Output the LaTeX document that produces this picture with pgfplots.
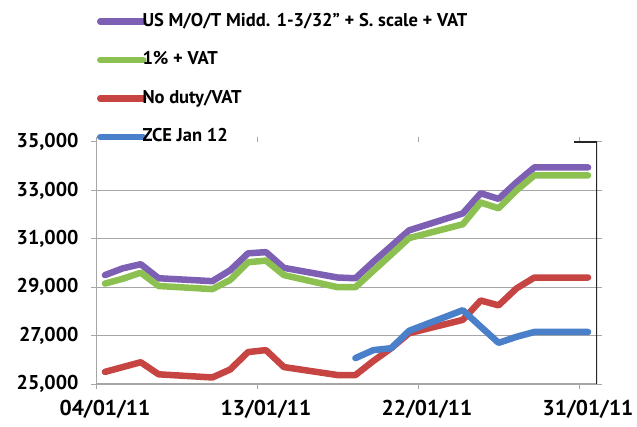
\documentclass[border=0pt]{standalone}
\usepackage{fontspec}
\setmainfont{PT Sans}
\usepackage{pgfplots}
\pgfplotsset{compat=1.18}
\definecolor{cpur}{HTML}{7D60B3}
\definecolor{cgrn}{HTML}{8CC152}
\definecolor{cred}{HTML}{C64441}
\definecolor{cblu}{HTML}{4A7FC9}
\definecolor{cgrid}{HTML}{A6A6A6}
\begin{document}
\begin{tikzpicture}[x=1pt,y=1pt]
\useasboundingbox (0,0) rectangle (637,426);
\begin{axis}[
  at={(96pt,42pt)}, anchor=south west,
  scale only axis, width=501pt, height=242pt,
  xmin=3.5, xmax=31.5, ymin=25000, ymax=35000,
  axis line style={draw=none},
  tick align=outside,
  xtick={4,13,22,31},
  xticklabels={04/01/11,13/01/11,22/01/11,31/01/11},
  major x tick style={draw=none},
  minor xtick={3.5,12.5,21.5,30.5},
  minor x tick style={draw=cgrid, line width=1pt},
  minor tick length=5pt,
  major tick length=5pt,
  ytick={25000,27000,...,33000},
  extra y ticks={35000},
  extra y tick style={grid=none},
  ymajorgrids,
  major grid style={draw=cgrid, line width=1.2pt},
  y tick style={draw=cgrid, line width=1pt},
  /pgf/number format/.cd, 1000 sep={,}, assume math mode=true, /pgfplots/.cd,
  scaled y ticks=false,
  yticklabel style={font=\fontsize{20}{22}\selectfont\bfseries, anchor=east, xshift=-9pt},
  xticklabel style={font=\fontsize{21.5}{23}\selectfont\bfseries, anchor=north, yshift=-8pt},
  legend cell align=left,
  legend style={at={(0.002,1.533)}, anchor=north west, draw=none, fill=none,
    inner sep=0pt, outer sep=0pt, row sep=21.5pt,
    font=\fontsize{18.5}{20}\selectfont\bfseries,
    nodes={text height=13pt, text depth=4pt, inner sep=0pt},
    /tikz/every odd column/.append style={column sep=-4pt}},
  legend image code/.code={\draw[#1] (0pt,0pt) -- (43pt,0pt);},
  every axis plot/.append style={line width=6.5pt, line cap=round, line join=round},
]
\addplot[cpur] coordinates {(4,29500)(5,29780)(6,29950)(7,29370)(10,29250)(11,29700)(12,30400)(13,30450)(14,29800)(17,29400)(18,29370)(19,30050)(20,30700)(21,31350)(24,32050)(25,32880)(26,32650)(27,33330)(28,33950)(31,33950)};
\addlegendentry{US M/O/T Midd. 1-3/32" + S. scale + VAT}
\addplot[cgrn] coordinates {(4,29150)(5,29350)(6,29600)(7,29050)(10,28920)(11,29300)(12,30030)(13,30100)(14,29500)(17,29000)(18,29000)(19,29680)(20,30350)(21,31030)(24,31600)(25,32500)(26,32260)(27,33000)(28,33620)(31,33620)};
\addlegendentry{1\% + VAT}
\addplot[cred] coordinates {(4,25500)(5,25700)(6,25900)(7,25400)(10,25270)(11,25600)(12,26320)(13,26400)(14,25700)(17,25370)(18,25370)(19,25950)(20,26480)(21,27100)(24,27650)(25,28450)(26,28250)(27,28950)(28,29400)(31,29400)};
\addlegendentry{No duty/VAT}
\addplot[cblu] coordinates {(18,26070)(19,26400)(20,26480)(21,27200)(24,28050)(25,27370)(26,26700)(27,26950)(28,27150)(31,27150)};
\addlegendentry{ZCE Jan 12}
\draw[cgrid, line width=1.2pt] (rel axis cs:0,0) -- (rel axis cs:1,0);
\draw[cgrid, line width=1.2pt] (rel axis cs:0,0) -- (rel axis cs:0,1);
\draw[black!85, line width=1.8pt] (rel axis cs:1,0) -- (rel axis cs:1,1) -- ++(-23pt,0pt);
\end{axis}
\end{tikzpicture}
\end{document}
